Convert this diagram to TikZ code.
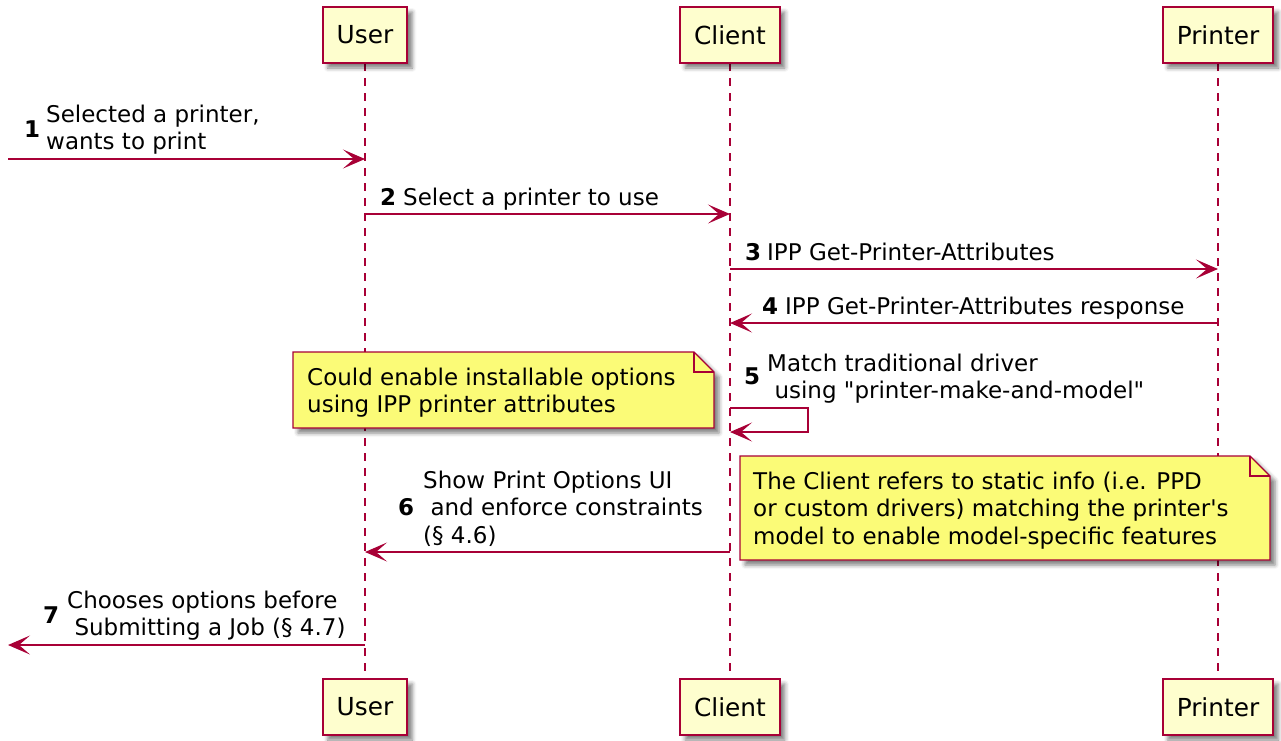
\documentclass[tikz,border=0pt]{standalone}
\usepackage{fontspec}
\setmainfont{DejaVu Sans}[Ligatures=TeXOff]
\usetikzlibrary{arrows.meta,shadows.blur}
\definecolor{pborder}{HTML}{A80036}
\definecolor{pfill}{HTML}{FEFECE}
\definecolor{nfill}{HTML}{FBFB77}
\tikzset{
  shad/.style={blur shadow={shadow xshift=5pt, shadow yshift=-5pt, shadow blur radius=4pt, shadow opacity=50}},
  part/.style={draw=pborder, line width=1.6pt, fill=pfill, minimum height=56pt, inner xsep=14pt,
    font=\fontsize{24.8}{29}\selectfont, shad},
  life/.style={draw=pborder, line width=1.3pt, dash pattern=on 8pt off 7pt},
  msg/.style={draw=pborder, line width=1.4pt, -{Stealth[length=22pt,width=19pt,inset=11pt]}},
  lbl/.style={anchor=base west, inner sep=0pt, font=\fontsize{23}{27.5}\selectfont},
  num/.style={anchor=base west, inner sep=0pt, font=\fontsize{23}{27.5}\selectfont\bfseries},
  notebox/.style={draw=pborder, line width=1.3pt, fill=nfill, shad},
  fold/.style={draw=pborder, line width=1.3pt},
}
\newcommand{\lines}[1]{\begin{tabular}[t]{@{}l@{}}#1\end{tabular}}
\begin{document}
\begin{tikzpicture}[x=1pt,y=-1pt]
\useasboundingbox (0,0) rectangle (1281,740);
% lifelines
\coordinate (uT) at (365,63);  \coordinate (uB) at (365,678);
\coordinate (cT) at (730,63);  \coordinate (cB) at (730,678);
\coordinate (pT) at (1218,63); \coordinate (pB) at (1218,678);
\draw[life] (uT) -- (uB);
\draw[life] (cT) -- (cB);
\draw[life] (pT) -- (pB);
% participants
\node[part] (user1) at (365,35) {User};
\node[part] (client1) at (730,35) {Client};
\node[part] (printer1) at (1218,35) {Printer};
\node[part] (user2) at (365,707) {User};
\node[part] (client2) at (730,707) {Client};
\node[part] (printer2) at (1218,707) {Printer};
% notes
\path[notebox] (293,352) -- (694,352) -- (714,372) -- (714,428) -- (293,428) -- cycle;
\draw[fold] (694,352) -- (694,372) -- (714,372);
\node[lbl] (note1) at (307,385) {\lines{Could enable installable options\\using IPP printer attributes}};
\path[notebox] (740,456) -- (1250,456) -- (1270,476) -- (1270,560) -- (740,560) -- cycle;
\draw[fold] (1250,456) -- (1250,476) -- (1270,476);
\node[lbl] (note2) at (753,489) {\lines{The Client refers to static info (i.e. PPD\\or custom drivers) matching the printer's\\model to enable model-specific features}};
% message endpoints
\coordinate (in1) at (8,159);   \coordinate (u1) at (365,159);
\coordinate (u2) at (365,214);  \coordinate (c2) at (730,214);
\coordinate (c3) at (730,269);  \coordinate (p3) at (1218,269);
\coordinate (p4) at (1218,323); \coordinate (c4) at (730,323);
\coordinate (c5a) at (730,408); \coordinate (c5b) at (730,432);
\coordinate (c6) at (730,552);  \coordinate (u6) at (365,552);
\coordinate (u7) at (365,645);  \coordinate (out7) at (8,645);
% messages
\draw[msg] (in1) -- (u1);
\node[num] (n1) at (24,137) {1};
\node[lbl] (m1) at (46,122) {\lines{Selected a printer,\\wants to print}};
\draw[msg] (u2) -- (c2);
\node[num] (n2) at (380,205) {2};
\node[lbl] (m2) at (403,205) {Select a printer to use};
\draw[msg] (c3) -- (p3);
\node[num] (n3) at (745,260) {3};
\node[lbl] (m3) at (767,260) {IPP Get-Printer-Attributes};
\draw[msg] (p4) -- (c4);
\node[num] (n4) at (762,314) {4};
\node[lbl] (m4) at (785,314) {IPP Get-Printer-Attributes response};
\draw[msg] (c5a) -- (808,408) -- (808,432) -- (c5b);
\node[num] (n5) at (744,384) {5};
\node[lbl] (m5) at (767,371) {\lines{Match traditional driver\\~using "printer-make-and-model"}};
\draw[msg] (c6) -- (u6);
\node[num] (n6) at (398,515) {6};
\node[lbl] (m6) at (423,488) {\lines{Show Print Options UI\\~and enforce constraints\\(§ 4.6)}};
\draw[msg] (u7) -- (out7);
\node[num] (n7) at (43,623) {7};
\node[lbl] (m7) at (67,608) {\lines{Chooses options before\\~Submitting a Job (§ 4.7)}};
\end{tikzpicture}
\end{document}
